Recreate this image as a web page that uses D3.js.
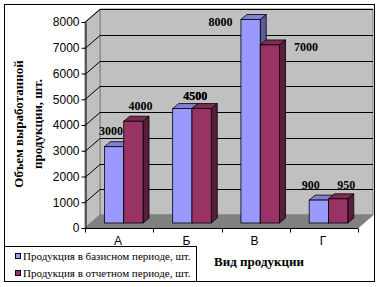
<!DOCTYPE html>
<html>
<head>
<meta charset="utf-8">
<script src="https://d3js.org/d3.v7.min.js"></script>
<style>
  body { margin: 0; background: #fff; }
  .tick-label { font-family: Arial, "Liberation Sans", sans-serif; font-size: 12px; }
  .serif { font-family: "Liberation Serif", "Times New Roman", serif; }
</style>
</head>
<body>
<div id="chart"></div>
<script>
// data
var categories = ["А", "Б", "В", "Г"];
var seriesNames = ["Продукция в базисном периоде, шт.", "Продукция в отчетном периоде, шт."];
var baseValues = [3000, 4500, 8000, 900];
var reportValues = [4000, 4500, 7000, 950];
var yTicks = [0, 1000, 2000, 3000, 4000, 5000, 6000, 7000, 8000];
var seriesColors = ["#9999ff", "#993366"];

// data labels were dragged around in the original, so keep the nudges
var baseLabelShift = [[-6, -16], [10, -13], [-33, 2], [-11, -15]];
var reportLabelShift = [[4, -15], [-9.3, -13], [33, 2], [5, -14]];

var width = 380,
    height = 287;

var svg = d3.select("#chart").append("svg")
    .attr("width", width)
    .attr("height", height);

// outer frame
svg.append("rect")
    .attr("x", 4.5).attr("y", 4.5)
    .attr("width", 370).attr("height", 277)
    .attr("fill", "#fff").attr("stroke", "#000");

// 3d box
var depthX = 15, depthY = -13;
var x = d3.scaleBand().domain(categories).range([85, 358]);
var y = d3.scaleLinear().domain([0, 8000]).range([228, 22]);
// bars sit a bit deeper in the box
var yBar = d3.scaleLinear().domain([0, 8000]).range([223, 19.5]);
var faceDx = 4.6, sideDx = 6, sideDy = -5;

var x0 = x.range()[0], x1 = x.range()[1];
var yTop = y(8000), yBot = y(0);

// back wall
svg.append("polygon")
    .attr("points", [[x0 + depthX, yTop + depthY], [x1 + depthX, yTop + depthY],
                     [x1 + depthX, yBot + depthY], [x0 + depthX, yBot + depthY]].join(" "))
    .attr("fill", "#c0c0c0").attr("stroke", "#808080");

// side wall
svg.append("polygon")
    .attr("points", [[x0, yTop], [x0 + depthX, yTop + depthY],
                     [x0 + depthX, yBot + depthY], [x0, yBot]].join(" "))
    .attr("fill", "#c0c0c0").attr("stroke", "#808080");

// floor
svg.append("polygon")
    .attr("points", [[x0, yBot], [x1, yBot], [x1 + depthX, yBot + depthY], [x0 + depthX, yBot + depthY]].join(" "))
    .attr("fill", "#808080").attr("stroke", "#808080");

// gridlines
var grid = svg.append("g").attr("stroke", "#000").attr("stroke-width", 1);
yTicks.slice(1).forEach(function(t) {
    var yy = Math.round(y(t)) + 0.5;
    grid.append("line")
        .attr("x1", x0).attr("y1", yy)
        .attr("x2", x0 + depthX).attr("y2", yy + depthY);
    grid.append("line")
        .attr("x1", x0 + depthX).attr("y1", yy + depthY)
        .attr("x2", x1 + depthX).attr("y2", yy + depthY);
});

// axes
var yAxis = svg.append("g").attr("transform", "translate(" + (x0 + 0.5) + ",0)")
    .call(d3.axisLeft(y).tickValues(yTicks).tickFormat(d3.format("d"))
        .tickSize(4).tickSizeOuter(0).tickPadding(2));
yAxis.select(".domain").attr("stroke", "#000");
yAxis.selectAll("text").attr("class", "tick-label").attr("fill", "#000")
    .style("font-family", "Arial, 'Liberation Sans', sans-serif").style("font-size", "12px");

var xAxisG = svg.append("g").attr("transform", "translate(0," + (yBot + 0.5) + ")");
xAxisG.append("line").attr("x1", x0).attr("x2", x1).attr("stroke", "#000");
xAxisG.selectAll(".xt")
    .data(categories.concat(["end"]))
    .enter().append("line")
    .attr("x1", function(d, i) { return Math.round(x0 + i * x.step()) + 0.5; })
    .attr("x2", function(d, i) { return Math.round(x0 + i * x.step()) + 0.5; })
    .attr("y1", 0).attr("y2", 4)
    .attr("stroke", "#000");
xAxisG.selectAll(".xl")
    .data(categories)
    .enter().append("text")
    .attr("class", "tick-label")
    .attr("x", function(d) { return x(d) + x.bandwidth() / 2 - 1; })
    .attr("y", 16)
    .attr("text-anchor", "middle")
    .text(function(d) { return d; });

// bars
var xs = d3.scaleBand().domain([0, 1]).range([0, x.bandwidth()]).paddingOuter(0.768);
var barData = [];
categories.forEach(function(c, i) {
    barData.push({cat: c, s: 0, v: baseValues[i], shift: baseLabelShift[i]});
    barData.push({cat: c, s: 1, v: reportValues[i], shift: reportLabelShift[i]});
});

var bars = svg.append("g").selectAll("g")
    .data(barData)
    .enter().append("g");

bars.each(function(d) {
    var g = d3.select(this);
    var left = x(d.cat) + xs(d.s) + faceDx,
        right = left + xs.bandwidth(),
        top = yBar(d.v),
        bot = yBar(0);
    var col = d3.color(seriesColors[d.s]);
    // side
    g.append("polygon")
        .attr("points", [[right, top], [right + sideDx, top + sideDy], [right + sideDx, bot + sideDy], [right, bot]].join(" "))
        .attr("fill", col.darker(1.5)).attr("stroke", "#000").attr("stroke-width", 0.8);
    // top
    g.append("polygon")
        .attr("points", [[left, top], [left + sideDx, top + sideDy], [right + sideDx, top + sideDy], [right, top]].join(" "))
        .attr("fill", col.darker(0.5)).attr("stroke", "#000").attr("stroke-width", 0.8);
    // front
    g.append("rect")
        .attr("x", left).attr("y", top)
        .attr("width", right - left).attr("height", bot - top)
        .attr("fill", col).attr("stroke", "#000").attr("stroke-width", 0.8);
    d.labelX = (left + right + sideDx) / 2 + d.shift[0];
    d.labelY = top + d.shift[1];
});

// data labels
svg.append("g").selectAll("text")
    .data(barData)
    .enter().append("text")
    .attr("class", "serif")
    .attr("x", function(d) { return d.labelX; })
    .attr("y", function(d) { return d.labelY; })
    .attr("dy", "0.35em")
    .attr("text-anchor", "middle")
    .style("font-size", "12px")
    .style("font-weight", "bold")
    .text(function(d) { return d.v; });

// axis titles
var yTitle = svg.append("text")
    .attr("class", "serif")
    .attr("transform", "translate(27,124) rotate(-90)")
    .attr("text-anchor", "middle")
    .style("font-size", "13px")
    .style("font-weight", "bold");
yTitle.append("tspan").attr("x", 0).attr("dy", "-0.3em").text("Объем выработанной");
yTitle.append("tspan").attr("x", 0).attr("dy", "1.45em").text("продукции, шт.");

svg.append("text")
    .attr("class", "serif")
    .attr("x", 259).attr("y", 261)
    .attr("dy", "0.35em")
    .attr("text-anchor", "middle")
    .style("font-size", "13px")
    .style("font-weight", "bold")
    .text("Вид продукции");

// legend
var legend = svg.append("g");
legend.append("rect")
    .attr("x", 4.5).attr("y", 246.5)
    .attr("width", 192).attr("height", 35)
    .attr("fill", "#fff").attr("stroke", "#000");
var item = legend.selectAll(".item")
    .data(seriesNames)
    .enter().append("g")
    .attr("transform", function(d, i) { return "translate(0," + (256 + i * 17) + ")"; });
item.append("rect")
    .attr("x", 15.5).attr("y", -2.5)
    .attr("width", 5).attr("height", 5)
    .attr("fill", function(d, i) { return seriesColors[i]; })
    .attr("stroke", "#000");
item.append("text")
    .attr("class", "serif")
    .attr("x", 23).attr("y", 0)
    .attr("dy", "0.35em")
    .style("font-size", "11px")
    .text(function(d) { return d; });
</script>
</body>
</html>
